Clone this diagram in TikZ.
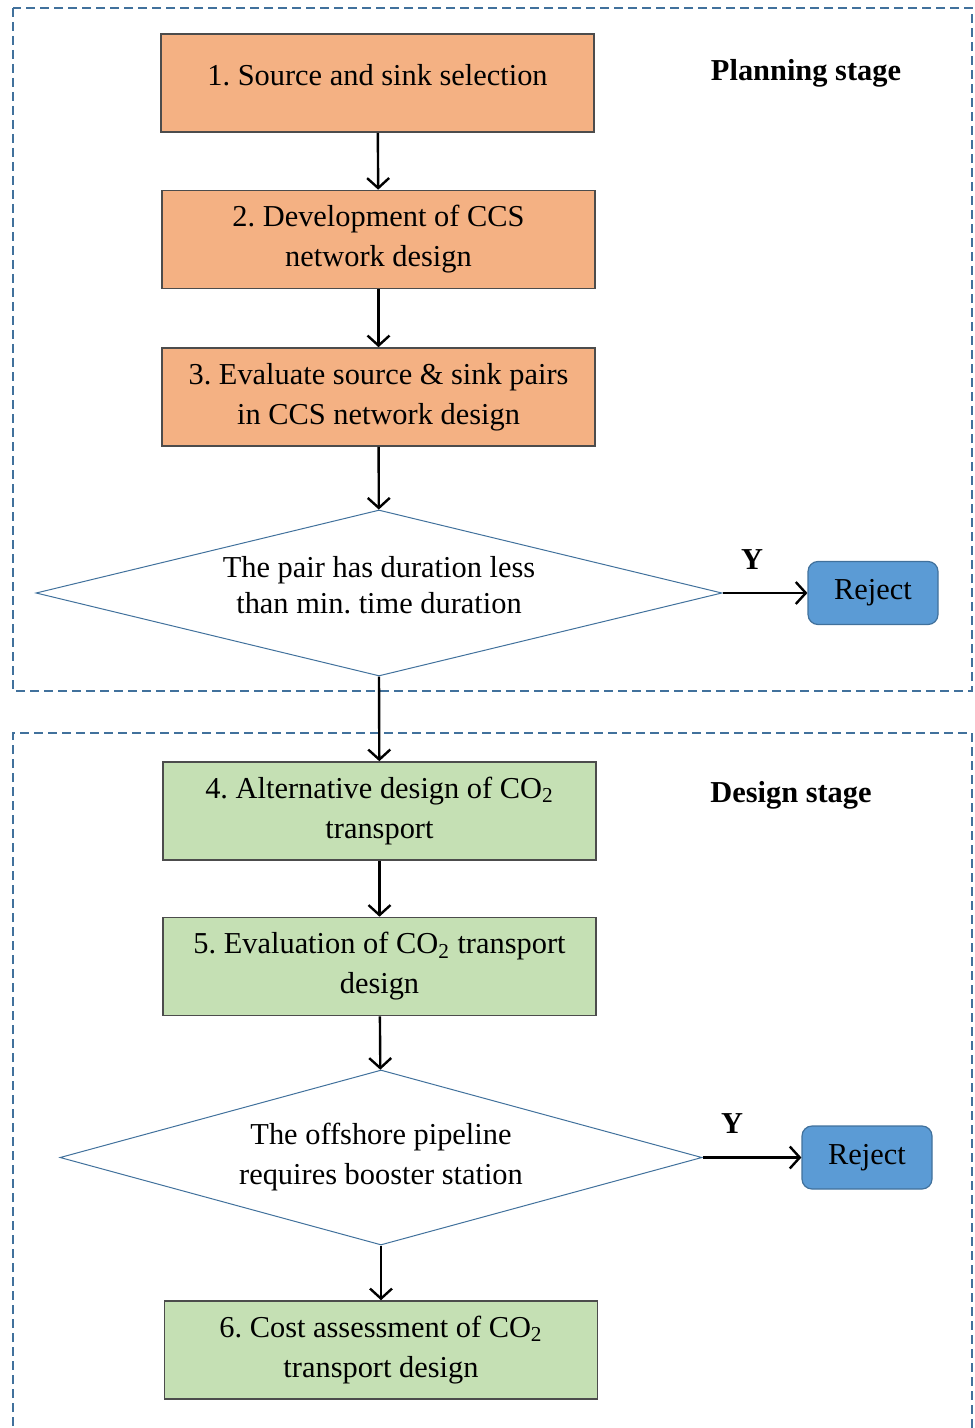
\documentclass[tikz,border=0pt]{standalone}
\usepackage{fontspec}
\setmainfont{Liberation Serif}
\usetikzlibrary{arrows.meta,shapes.geometric}
\frenchspacing

\definecolor{planfill}{RGB}{244,177,131}
\definecolor{designfill}{RGB}{197,224,180}
\definecolor{rejfill}{RGB}{91,155,213}
\definecolor{frameblue}{RGB}{65,113,156}

\begin{document}
\begin{tikzpicture}[x=0.5pt,y=-0.5pt,
	every node/.style={font=\fontsize{15.2}{20}\selectfont},
	stagebox/.style={draw=black!70, line width=0.8pt, minimum width=216.5pt, minimum height=49pt, align=center, inner sep=0pt},
	plan/.style={stagebox, fill=planfill},
	design/.style={stagebox, fill=designfill},
	test/.style={diamond, draw=frameblue, line width=0.5pt, aspect=4, align=center, inner sep=0pt},
	reject/.style={draw=frameblue, fill=rejfill, rounded corners=5pt, minimum width=65pt, minimum height=31.5pt, line width=0.6pt},
	frame/.style={draw=frameblue, line width=1pt, dash pattern=on 4.5pt off 2.5pt},
	flow/.style={-{Straight Barb[length=5pt,width=11pt]}, line width=1.2pt},
	stage/.style={font=\fontsize{15.2}{20}\selectfont\bfseries}]
			\useasboundingbox (0,0) rectangle (974,1428);
			
			% the two stage frames
			\draw [frame] (13,8) rectangle (972,691);
			\draw [frame] (13,1440) -- (13,733) -- (972,733) -- (972,1440);
			
			\node [stage] (planlbl) at (806,73) {Planning stage};
			\node [stage] (designlbl) at (791,795) {Design stage};
			
			% planning stage
			\node [plan, text depth=8pt] (select) at (377.5,83) {1. Source and sink selection};
			\node [plan] (network) at (378.5,239.5) {2. Development of CCS\\network design};
			\node [plan] (pairs) at (378.5,397) {3. Evaluate source \& sink pairs\\in CCS network design};
			\node [test, minimum width=343pt, minimum height=83pt, text depth=8pt, font=\fontsize{15.2}{18}\selectfont] (duration) at (379,593) {The pair has duration less\\than min. time duration};
			\node [reject] (reject1) at (873,593) {Reject};
			
			% design stage
			\node [design] (altdesign) at (379.5,811) {4. Alternative design of CO\textsubscript{2}\\transport};
			\node [design] (evaldesign) at (379.5,966.5) {5. Evaluation of CO\textsubscript{2} transport\\design};
			\node [test, minimum width=321pt, minimum height=87.5pt] (booster) at (381,1157.5) {The offshore pipeline\\requires booster station};
			\node [reject] (reject2) at (867,1157.5) {Reject};
			\node [design] (cost) at (381,1350) {6. Cost assessment of CO\textsubscript{2}\\transport design};
			
			\draw [flow] (select) -- (network);
			\draw [flow] (network) -- (pairs);
			\draw [flow] (pairs) -- (duration);
			\draw [flow] (duration.east) -- node [pos=.35, above=8pt, stage] {Y} (reject1);
			\draw [flow] (duration.south) -- (altdesign);
			\draw [flow] (altdesign) -- (evaldesign);
			\draw [flow] (evaldesign) -- (booster);
			\draw [flow] (booster.east) -- node [pos=.3, above=8pt, stage] {Y} (reject2);
			\draw [flow] (booster.south) -- (cost);
\end{tikzpicture}
\end{document}
